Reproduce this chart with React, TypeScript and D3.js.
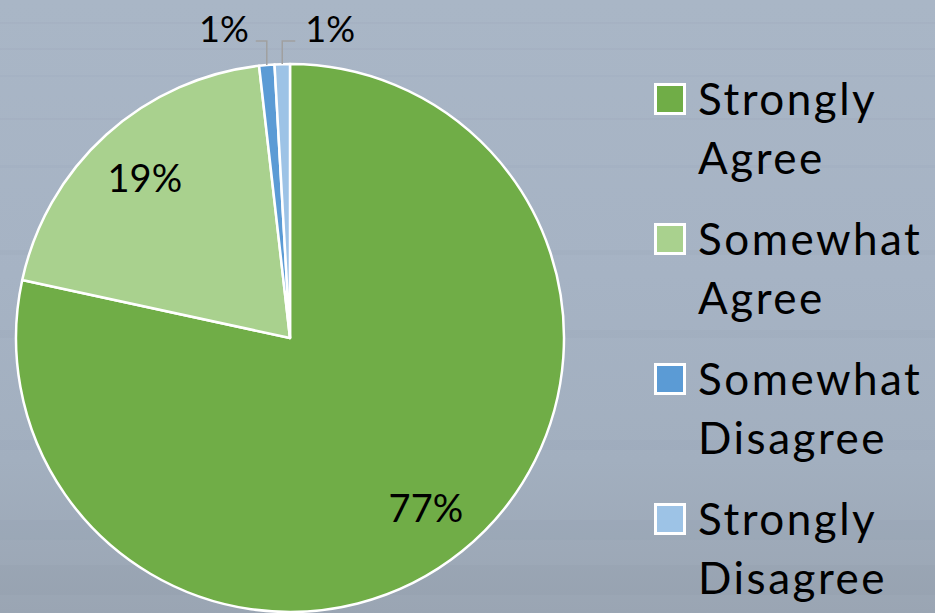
import React from "react";
import * as d3 from "d3";

const categories = ["Strongly Agree", "Somewhat Agree", "Somewhat Disagree", "Strongly Disagree"];
const legendLines = [["Strongly", "Agree"], ["Somewhat", "Agree"], ["Somewhat", "Disagree"], ["Strongly", "Disagree"]];
const values = [78.4, 19.8, 0.9, 0.9];
const labels = ["77%", "19%", "1%", "1%"];
const colors = ["#70AD47", "#A9D18E", "#5B9BD5", "#9DC3E6"];

const W = 935;
const H = 613;
const cx = 290;
const cy = 338;
const R = 274;
const FONT = "Lato, 'Open Sans', sans-serif";

// faint streak decorations for the water-like background (fixed, not data)
const streaks = [
  [0, 22, 935, 2, 0.04], [0, 48, 935, 2, 0.04], [0, 75, 935, 2, 0.035], [0, 118, 935, 2, 0.04],
  [0, 165, 935, 3, 0.035], [0, 250, 935, 5, 0.03], [0, 330, 935, 8, 0.03], [0, 440, 935, 10, 0.03],
  [0, 520, 935, 20, 0.035], [0, 565, 935, 30, 0.04],
];

export default function App() {
  const pie = d3.pie<number>().sort(null).startAngle(0).endAngle(2 * Math.PI);
  const arcs = pie(values);
  const arc = d3.arc<d3.PieArcDatum<number>>().innerRadius(0).outerRadius(R);
  const labelArc = d3.arc<d3.PieArcDatum<number>>().innerRadius(R * 0.79).outerRadius(R * 0.79);
  const outer = d3.arc<d3.PieArcDatum<number>>().innerRadius(R).outerRadius(R);
  const topY = cy - R - 23;

  return (
    <div style={{ position: "fixed", left: 0, top: 0 }}>
      <svg width={W} height={H} style={{ display: "block" }}>
        <defs>
          <linearGradient id="bg" x1="0" y1="0" x2="0" y2="1">
            <stop offset="0" stopColor="#A9B6C6" />
            <stop offset="0.45" stopColor="#A6B3C4" />
            <stop offset="0.75" stopColor="#A2AFBF" />
            <stop offset="1" stopColor="#9AA5B3" />
          </linearGradient>
        </defs>
        <rect x={0} y={0} width={W} height={H} fill="url(#bg)" />
        {streaks.map((s, i) => (
          <rect key={i} x={s[0]} y={s[1]} width={s[2]} height={s[3]} fill="#5a6a80" opacity={s[4]} />
        ))}
        <g transform={`translate(${cx},${cy})`}>
          {arcs.map((a, i) => (
            <path key={categories[i]} d={arc(a) || ""} fill={colors[i]} stroke="#fff" strokeWidth={2.5} strokeLinejoin="round" />
          ))}
          {arcs.map((a, i) => {
            if (i < 2) {
              const [x, y] = labelArc.centroid(a);
              return (
                <text key={"l" + i} x={x} y={y} textAnchor="middle" dominantBaseline="central"
                  fontFamily={FONT} fontSize={38} fill="#000">{labels[i]}</text>
              );
            }
            const [ox, oy] = outer.centroid(a);
            const left = i === 2;
            const lx = left ? ox - 11 : ox + 13;
            const ly = topY - cy;
            return (
              <g key={"l" + i}>
                <polyline points={`${ox},${oy} ${ox},${ly} ${lx},${ly}`} fill="none" stroke="#A0A0A0" strokeWidth={1.5} />
                <text x={left ? lx - 7 : lx + 10} y={ly + 1} textAnchor={left ? "end" : "start"} fontFamily={FONT}
                  fontSize={36} fill="#000">{labels[i]}</text>
              </g>
            );
          })}
        </g>
        <g>
          {legendLines.map((lines, i) => {
            const y0 = 115 + i * 140;
            return (
              <g key={"lg" + i}>
                <rect x={655.5} y={y0 - 30.5} width={29} height={29} fill={colors[i]} stroke="#fff" strokeWidth={3} />
                {lines.map((t, j) => (
                  <text key={j} x={698} y={y0 + j * 59} fontFamily={FONT} fontSize={44} letterSpacing={2.5} fill="#000">{t}</text>
                ))}
              </g>
            );
          })}
        </g>
      </svg>
    </div>
  );
}
